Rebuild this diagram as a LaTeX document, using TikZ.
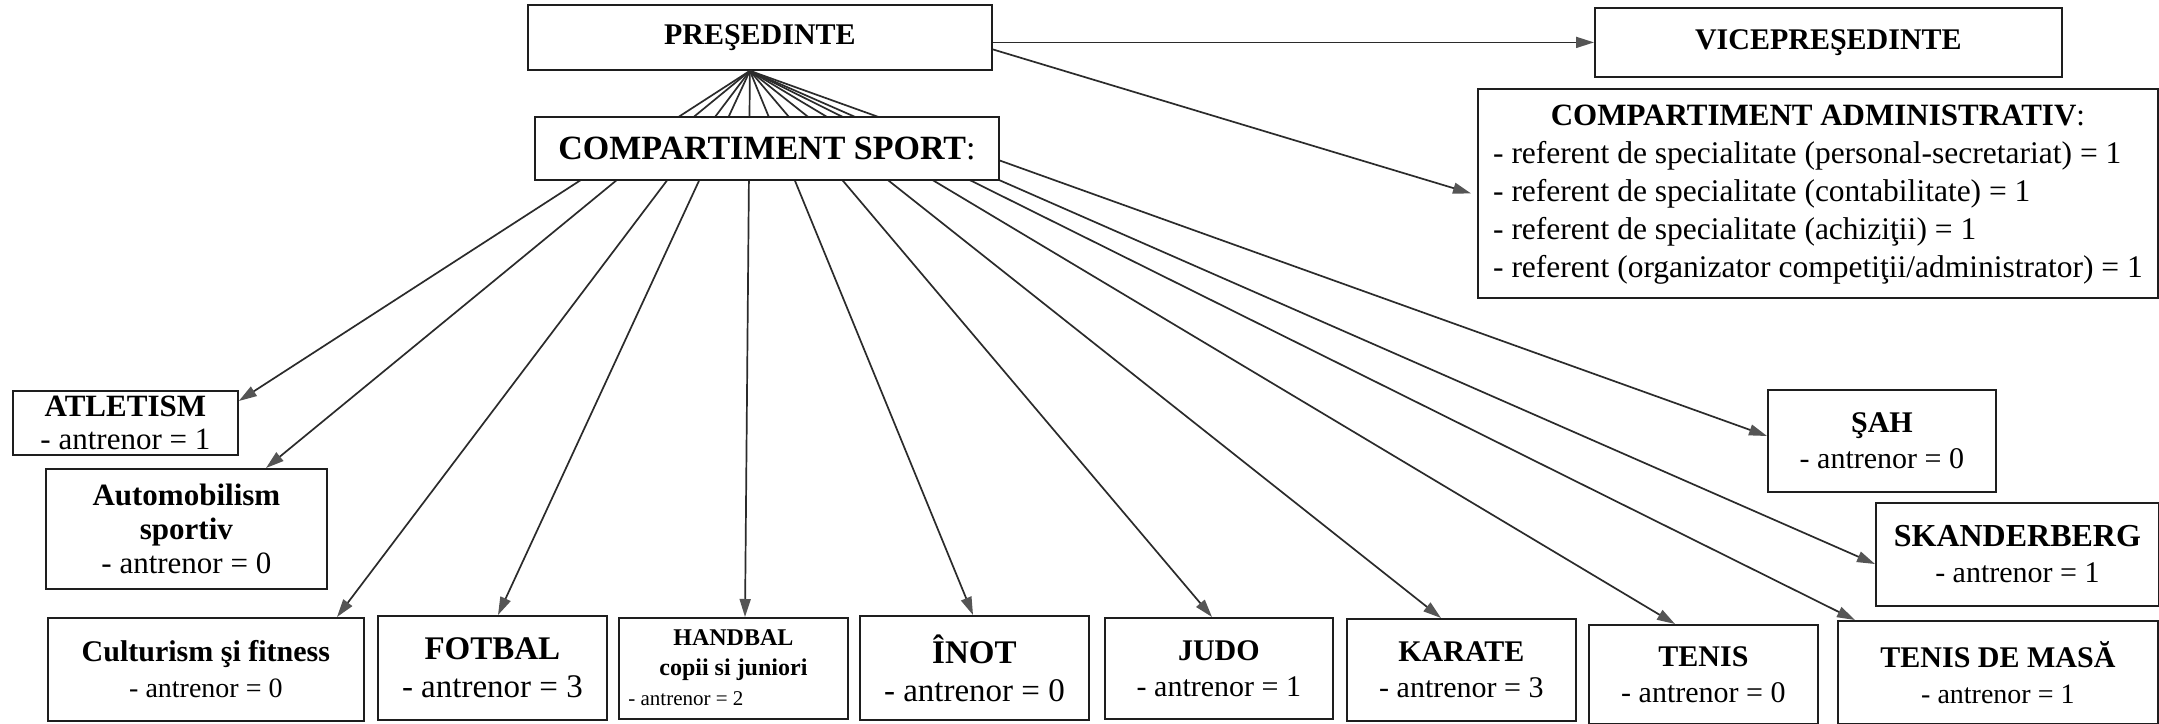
\documentclass[tikz,border=0pt]{standalone}
\usepackage{fontspec}
\setmainfont{Liberation Serif}
\usetikzlibrary{arrows.meta,calc}
\definecolor{linec}{HTML}{2B2B2B}
\definecolor{tipc}{HTML}{555555}
\definecolor{boxc}{HTML}{1E1E1E}
\begin{document}
\begin{tikzpicture}[x=1pt,y=-1pt,
  box/.style={draw=boxc, line width=1.8pt, fill=white, anchor=north west, inner sep=2pt, align=center, font=\fontsize{30}{36}\selectfont},
  conn/.style={draw=linec, line width=1.7pt, -{Triangle[length=18pt,width=11pt,fill=tipc,color=tipc]}}]
\fill[white] (0,0) rectangle (2159,723);
\useasboundingbox (0,0) rectangle (2159,723);

\node[box, minimum width=464pt, minimum height=65pt] (pres) at (527,4) {\textbf{PREŞEDINTE}};
\node[box, minimum width=467pt, minimum height=69pt] (vice) at (1594,7) {\textbf{VICEPREŞEDINTE}};
\node[box, minimum width=680pt, minimum height=209pt, font=\fontsize{31.5}{38}\selectfont] (admin) at (1477,88) {\begin{tabular}{@{}l@{}}\multicolumn{1}{@{}c@{}}{\fontsize{31}{38}\selectfont\textbf{COMPARTIMENT ADMINISTRATIV}:}\\
- referent de specialitate (personal-secretariat) = 1\\
- referent de specialitate (contabilitate) = 1\\
- referent de specialitate (achiziţii) = 1\\
- referent (organizator competiţii/administrator) = 1\end{tabular}};

\node[box, minimum width=225pt, minimum height=64pt, font=\fontsize{31}{33}\selectfont] (atl) at (12,390) {\textbf{ATLETISM}\\- antrenor = 1};
\node[box, minimum width=281pt, minimum height=120pt, font=\fontsize{31}{34}\selectfont] (auto) at (45,468) {\textbf{Automobilism}\\\textbf{sportiv}\\- antrenor = 0};
\node[box, minimum width=316pt, minimum height=103pt] (cult) at (47,617) {\textbf{Culturism şi fitness}\\{\fontsize{28}{36}\selectfont - antrenor = 0}};
\node[box, minimum width=229pt, minimum height=104pt, font=\fontsize{33}{38}\selectfont] (fot) at (377,615) {\textbf{FOTBAL}\\- antrenor = 3};
\node[box, minimum width=229pt, minimum height=101pt] (hand) at (618,617) {\begin{tabular}{@{}l@{}}\makebox[210pt][c]{\fontsize{24}{24}\selectfont\bfseries HANDBAL}\\[-6pt]\makebox[210pt][c]{\fontsize{24}{24}\selectfont\bfseries copii si juniori}\\[-6pt]\fontsize{21}{24}\selectfont - antrenor = 2\end{tabular}};
\node[box, minimum width=229pt, minimum height=104pt, font=\fontsize{33}{38}\selectfont] (inot) at (859,615) {\textbf{ÎNOT}\\- antrenor = 0};
\node[box, minimum width=228pt, minimum height=101pt] (judo) at (1104,617) {\textbf{JUDO}\\- antrenor = 1};
\node[box, minimum width=229pt, minimum height=102pt] (kar) at (1346,618) {\textbf{KARATE}\\- antrenor = 3};
\node[box, minimum width=229pt, minimum height=99pt] (ten) at (1588,624) {\textbf{TENIS}\\- antrenor = 0};
\node[box, minimum width=320pt, minimum height=103pt] (tdm) at (1837,620) {\textbf{TENIS DE MASĂ}\\{\fontsize{28}{36}\selectfont - antrenor = 1}};
\node[box, minimum width=228pt, minimum height=102pt] (sah) at (1767,389) {\textbf{ŞAH}\\- antrenor = 0};
\node[box, minimum width=283pt, minimum height=103pt] (skand) at (1875,502) {{\fontsize{32}{36}\selectfont\textbf{SKANDERBERG}}\\- antrenor = 1};

\coordinate (apex) at ($(pres.south)+(-10,0)$);
\draw[conn] (pres.east |- vice.west) -- (vice.west);
\draw[conn] ($(pres.east)+(0,12)$) -- ($(admin.west)+(-6,0)$);
\draw[conn] (apex) -- ($(atl.north east)+(0,11)$);
\draw[conn] (apex) -- ($(auto.north west)+(221,0)$);
\draw[conn] (apex) -- ($(cult.north west)+(290,0)$);
\draw[conn] (apex) -- ($(fot.north west)+(121,0)$);
\draw[conn] (apex) -- ($(hand.north west)+(127,0)$);
\draw[conn] (apex) -- ($(inot.north west)+(114,0)$);
\draw[conn] (apex) -- ($(judo.north west)+(108,0)$);
\draw[conn] (apex) -- ($(kar.north west)+(95,0)$);
\draw[conn] (apex) -- ($(ten.north west)+(87,0)$);
\draw[conn] (apex) -- ($(tdm.north west)+(18,0)$);
\draw[conn] (apex) -- ($(sah.north west)+(0,47)$);
\draw[conn] (apex) -- ($(skand.north west)+(0,62)$);

\node[box, minimum width=464pt, minimum height=63pt, font=\fontsize{34}{36}\selectfont] (sport) at (534,116) {\textbf{COMPARTIMENT SPORT}:};
\end{tikzpicture}
\end{document}
